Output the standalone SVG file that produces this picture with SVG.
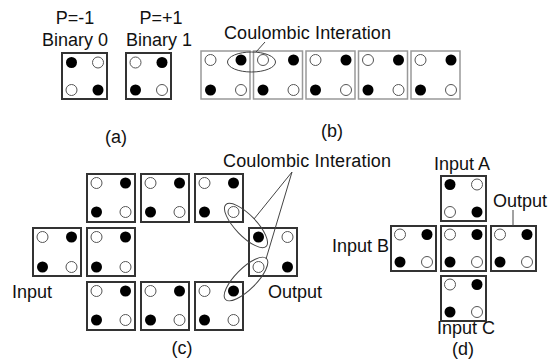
<svg xmlns="http://www.w3.org/2000/svg" width="555" height="360" viewBox="0 0 555 360">
<style>
text{font-family:"Liberation Sans",Arial,sans-serif;font-size:18px;fill:#111}
.c{fill:#fff;stroke:#333;stroke-width:2}
.cg{fill:#fff;stroke:#999;stroke-width:1.5}
.k{fill:#000}
.o{fill:#fff;stroke:#555;stroke-width:1}
.ln{fill:none;stroke:#444;stroke-width:1}
.mid{text-anchor:middle}
</style>
<rect width="555" height="360" fill="#fff"/>

<!-- (a) -->
<text class="mid" x="75" y="24">P=-1</text>
<text class="mid" x="75" y="46">Binary 0</text>
<text class="mid" x="161" y="24">P=+1</text>
<text class="mid" x="159" y="46">Binary 1</text>
<g id="a0"><rect class="c" x="62" y="53" width="45" height="46"/><circle class="k" cx="71.5" cy="62.5" r="5.5"/><circle class="o" cx="98" cy="62.5" r="5.5"/><circle class="o" cx="71.5" cy="90" r="5.5"/><circle class="k" cx="98" cy="90" r="5.5"/></g>
<g id="a1"><rect class="c" x="126" y="53" width="45" height="46"/><circle class="o" cx="135.5" cy="62.5" r="5.5"/><circle class="k" cx="162" cy="62.5" r="5.5"/><circle class="k" cx="135.5" cy="90" r="5.5"/><circle class="o" cx="162" cy="90" r="5.5"/></g>
<text class="mid" x="116" y="143">(a)</text>

<!-- (b) -->
<text x="224" y="39" textLength="167">Coulombic Interation</text>
<g id="b1"><rect class="cg" x="201" y="51" width="49" height="48"/><circle class="o" cx="210.5" cy="60" r="5.5"/><circle class="k" cx="241" cy="60" r="5.5"/><circle class="k" cx="210.5" cy="90" r="5.5"/><circle class="o" cx="241" cy="90" r="5.5"/></g>
<g id="b2"><rect class="cg" x="253.5" y="51" width="49" height="48"/><circle class="o" cx="263" cy="60" r="5.5"/><circle class="k" cx="293.5" cy="60" r="5.5"/><circle class="k" cx="263" cy="90" r="5.5"/><circle class="o" cx="293.5" cy="90" r="5.5"/></g>
<g id="b3"><rect class="cg" x="306" y="51" width="49" height="48"/><circle class="o" cx="315.5" cy="60" r="5.5"/><circle class="k" cx="346" cy="60" r="5.5"/><circle class="k" cx="315.5" cy="90" r="5.5"/><circle class="o" cx="346" cy="90" r="5.5"/></g>
<g id="b4"><rect class="cg" x="358.5" y="51" width="49" height="48"/><circle class="o" cx="368" cy="60" r="5.5"/><circle class="k" cx="398.5" cy="60" r="5.5"/><circle class="k" cx="368" cy="90" r="5.5"/><circle class="o" cx="398.5" cy="90" r="5.5"/></g>
<g id="b5"><rect class="cg" x="411" y="51" width="49" height="48"/><circle class="o" cx="420.5" cy="60" r="5.5"/><circle class="k" cx="451" cy="60" r="5.5"/><circle class="k" cx="420.5" cy="90" r="5.5"/><circle class="o" cx="451" cy="90" r="5.5"/></g>
<text class="mid" x="332" y="137">(b)</text>

<!-- (c) -->
<text x="223" y="167" textLength="168">Coulombic Interation</text>
<g id="c11"><rect class="c" x="87" y="174" width="48" height="48"/><circle class="o" cx="96.5" cy="183" r="5.5"/><circle class="k" cx="125.5" cy="183" r="5.5"/><circle class="k" cx="96.5" cy="212" r="5.5"/><circle class="o" cx="125.5" cy="212" r="5.5"/></g>
<g id="c12"><rect class="c" x="141" y="174" width="48" height="48"/><circle class="o" cx="150.5" cy="183" r="5.5"/><circle class="k" cx="179.5" cy="183" r="5.5"/><circle class="k" cx="150.5" cy="212" r="5.5"/><circle class="o" cx="179.5" cy="212" r="5.5"/></g>
<g id="c13"><rect class="c" x="195" y="174" width="48" height="48"/><circle class="o" cx="204.5" cy="183" r="5.5"/><circle class="k" cx="233.5" cy="183" r="5.5"/><circle class="k" cx="204.5" cy="212" r="5.5"/><circle class="o" cx="233.5" cy="212" r="5.5"/></g>
<g id="c21"><rect class="c" x="33" y="228" width="48" height="48"/><circle class="o" cx="42.5" cy="237" r="5.5"/><circle class="k" cx="71.5" cy="237" r="5.5"/><circle class="k" cx="42.5" cy="267" r="5.5"/><circle class="o" cx="71.5" cy="267" r="5.5"/></g>
<g id="c22"><rect class="c" x="87" y="228" width="48" height="48"/><circle class="o" cx="96.5" cy="237" r="5.5"/><circle class="k" cx="125.5" cy="237" r="5.5"/><circle class="k" cx="96.5" cy="267" r="5.5"/><circle class="o" cx="125.5" cy="267" r="5.5"/></g>
<g id="c25"><rect class="c" x="249" y="228" width="48" height="48"/><circle class="k" cx="258.5" cy="237" r="5.5"/><circle class="o" cx="287.5" cy="237" r="5.5"/><circle class="o" cx="258.5" cy="267" r="5.5"/><circle class="k" cx="287.5" cy="267" r="5.5"/></g>
<g id="c31"><rect class="c" x="87" y="282" width="48" height="48"/><circle class="o" cx="96.5" cy="291" r="5.5"/><circle class="k" cx="125.5" cy="291" r="5.5"/><circle class="k" cx="96.5" cy="320" r="5.5"/><circle class="o" cx="125.5" cy="320" r="5.5"/></g>
<g id="c32"><rect class="c" x="141" y="282" width="48" height="48"/><circle class="o" cx="150.5" cy="291" r="5.5"/><circle class="k" cx="179.5" cy="291" r="5.5"/><circle class="k" cx="150.5" cy="320" r="5.5"/><circle class="o" cx="179.5" cy="320" r="5.5"/></g>
<g id="c33"><rect class="c" x="195" y="282" width="48" height="48"/><circle class="o" cx="204.5" cy="291" r="5.5"/><circle class="k" cx="233.5" cy="291" r="5.5"/><circle class="k" cx="204.5" cy="320" r="5.5"/><circle class="o" cx="233.5" cy="320" r="5.5"/></g>
<text x="12" y="298">Input</text>
<text x="268" y="298">Output</text>
<text class="mid" x="182" y="354">(c)</text>

<!-- (d) -->
<text x="434" y="170">Input A</text>
<text x="493" y="207">Output</text>
<text x="389" y="252" text-anchor="end">Input B</text>
<text x="437" y="334">Input C</text>
<g id="dA"><rect class="c" x="441" y="176" width="45" height="45"/><circle class="k" cx="450" cy="184.5" r="5.5"/><circle class="o" cx="477" cy="184.5" r="5.5"/><circle class="o" cx="450" cy="212" r="5.5"/><circle class="k" cx="477" cy="212" r="5.5"/></g>
<g id="dB"><rect class="c" x="391" y="226" width="45" height="45"/><circle class="o" cx="400" cy="234.5" r="5.5"/><circle class="k" cx="427" cy="234.5" r="5.5"/><circle class="k" cx="400" cy="262" r="5.5"/><circle class="o" cx="427" cy="262" r="5.5"/></g>
<g id="dM"><rect class="c" x="441" y="226" width="45" height="45"/><circle class="o" cx="450" cy="234.5" r="5.5"/><circle class="k" cx="477" cy="234.5" r="5.5"/><circle class="k" cx="450" cy="262" r="5.5"/><circle class="o" cx="477" cy="262" r="5.5"/></g>
<g id="dO"><rect class="c" x="491" y="226" width="45" height="45"/><circle class="o" cx="500" cy="234.5" r="5.5"/><circle class="k" cx="527" cy="234.5" r="5.5"/><circle class="k" cx="500" cy="262" r="5.5"/><circle class="o" cx="527" cy="262" r="5.5"/></g>
<g id="dC"><rect class="c" x="441" y="276" width="45" height="45"/><circle class="o" cx="450" cy="284.5" r="5.5"/><circle class="k" cx="477" cy="284.5" r="5.5"/><circle class="k" cx="450" cy="312" r="5.5"/><circle class="o" cx="477" cy="312" r="5.5"/></g>
<text class="mid" x="463" y="355">(d)</text>

<!-- connectors -->
<g id="connectors">
<ellipse class="ln" cx="251.5" cy="62" rx="24" ry="10"/>
<line class="ln" x1="256" y1="52" x2="265" y2="42"/>
<ellipse class="ln" cx="246" cy="225.5" rx="29" ry="10.5" transform="rotate(46 246 225.5)"/>
<ellipse class="ln" cx="246" cy="279" rx="29" ry="10.5" transform="rotate(-45 246 279)"/>
<line class="ln" x1="292" y1="172" x2="254" y2="219"/>
<line class="ln" x1="292" y1="172" x2="266" y2="259"/>
<line class="ln" x1="513" y1="210" x2="513" y2="226" stroke="#888"/>
</g>
</svg>
